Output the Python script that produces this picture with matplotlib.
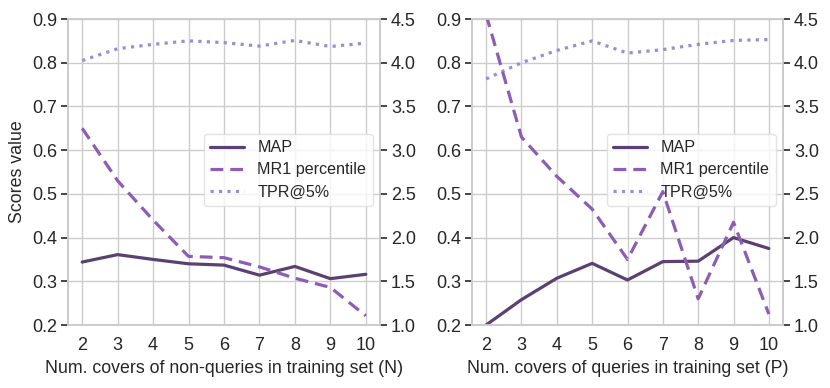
import matplotlib
matplotlib.use("Agg")
import matplotlib.pyplot as plt
import seaborn as sns

sns.set_theme(style="whitegrid")
plt.rcParams['font.family'] = ['Liberation Sans', 'DejaVu Sans']

x = [2, 3, 4, 5, 6, 7, 8, 9, 10]

# left panel: varying N
map_n = [0.344, 0.361, 0.350, 0.340, 0.337, 0.314, 0.334, 0.306, 0.316]
mr1_n = [3.25, 2.65, 2.20, 1.785, 1.77, 1.665, 1.535, 1.43, 1.105]
tpr_n = [0.805, 0.832, 0.842, 0.850, 0.846, 0.838, 0.851, 0.837, 0.845]

# right panel: varying P
map_p = [0.200, 0.258, 0.307, 0.341, 0.303, 0.345, 0.346, 0.400, 0.375]
mr1_p = [4.55, 3.15, 2.70, 2.325, 1.75, 2.525, 1.30, 2.175, 1.125]
tpr_p = [0.763, 0.800, 0.828, 0.850, 0.822, 0.830, 0.842, 0.851, 0.853]

xlabels = ["Num. covers of non-queries in training set (N)",
           "Num. covers of queries in training set (P)"]

c_map = "#5b4072"
c_mr1 = "#8e5cb5"
c_tpr = "#9a8ed3"

fig = plt.figure(figsize=(8.3, 3.88), dpi=100)
axes = [fig.add_axes([68 / 830, 63 / 388, 312 / 830, 306 / 388]),
        fig.add_axes([472 / 830, 63 / 388, 311 / 830, 306 / 388])]

panels = [(map_n, mr1_n, tpr_n), (map_p, mr1_p, tpr_p)]
for i, (ax, (m, r, t)) in enumerate(zip(axes, panels)):
    ax2 = ax.twinx()
    l1, = ax.plot(x, m, color=c_map, lw=2.3, label="MAP")
    l3, = ax.plot(x, t, color=c_tpr, lw=2.3, ls=":", label="TPR@5%")
    # MR1 sits on the right-hand scale, drawn above the legend like the original
    l2, = ax2.plot(x, r, color=c_mr1, lw=2.3, ls=(0, (4, 2.2)), label="MR1 percentile")
    ax.set_ylim(0.2, 0.9)
    ax2.set_ylim(1.0, 4.5)
    ax.set_xlim(1.6, 10.4)
    ax.set_xticks(x)
    ax.set_yticks([0.2, 0.3, 0.4, 0.5, 0.6, 0.7, 0.8, 0.9])
    ax2.set_yticks([1.0, 1.5, 2.0, 2.5, 3.0, 3.5, 4.0, 4.5])
    ax2.grid(False)
    for a in (ax, ax2):
        a.tick_params(axis="both", labelsize=13, colors="#262626", length=5,
                      width=1.2, pad=3)
        for s in a.spines.values():
            s.set_color("#cccccc")
    ax.tick_params(axis="x", length=0, pad=9)
    ax.tick_params(axis="y", left=True, color="#262626")
    ax2.tick_params(axis="y", right=True, color="#262626")
    ax.set_xlabel(xlabels[i], fontsize=12.8, color="#262626", labelpad=4)
    if i == 0:
        ax.set_ylabel("Scores value", fontsize=12.8, color="#262626")
    leg = ax.legend([l1, l2, l3], ["MAP", "MR1 percentile", "TPR@5%"],
                    loc="upper right", bbox_to_anchor=(0.976, 0.625),
                    fontsize=11.6, handlelength=2.1, frameon=True,
                    borderaxespad=0, labelspacing=0.45)
    leg.get_frame().set_edgecolor("#dddddd")

fig.savefig("out.png", dpi=100)
